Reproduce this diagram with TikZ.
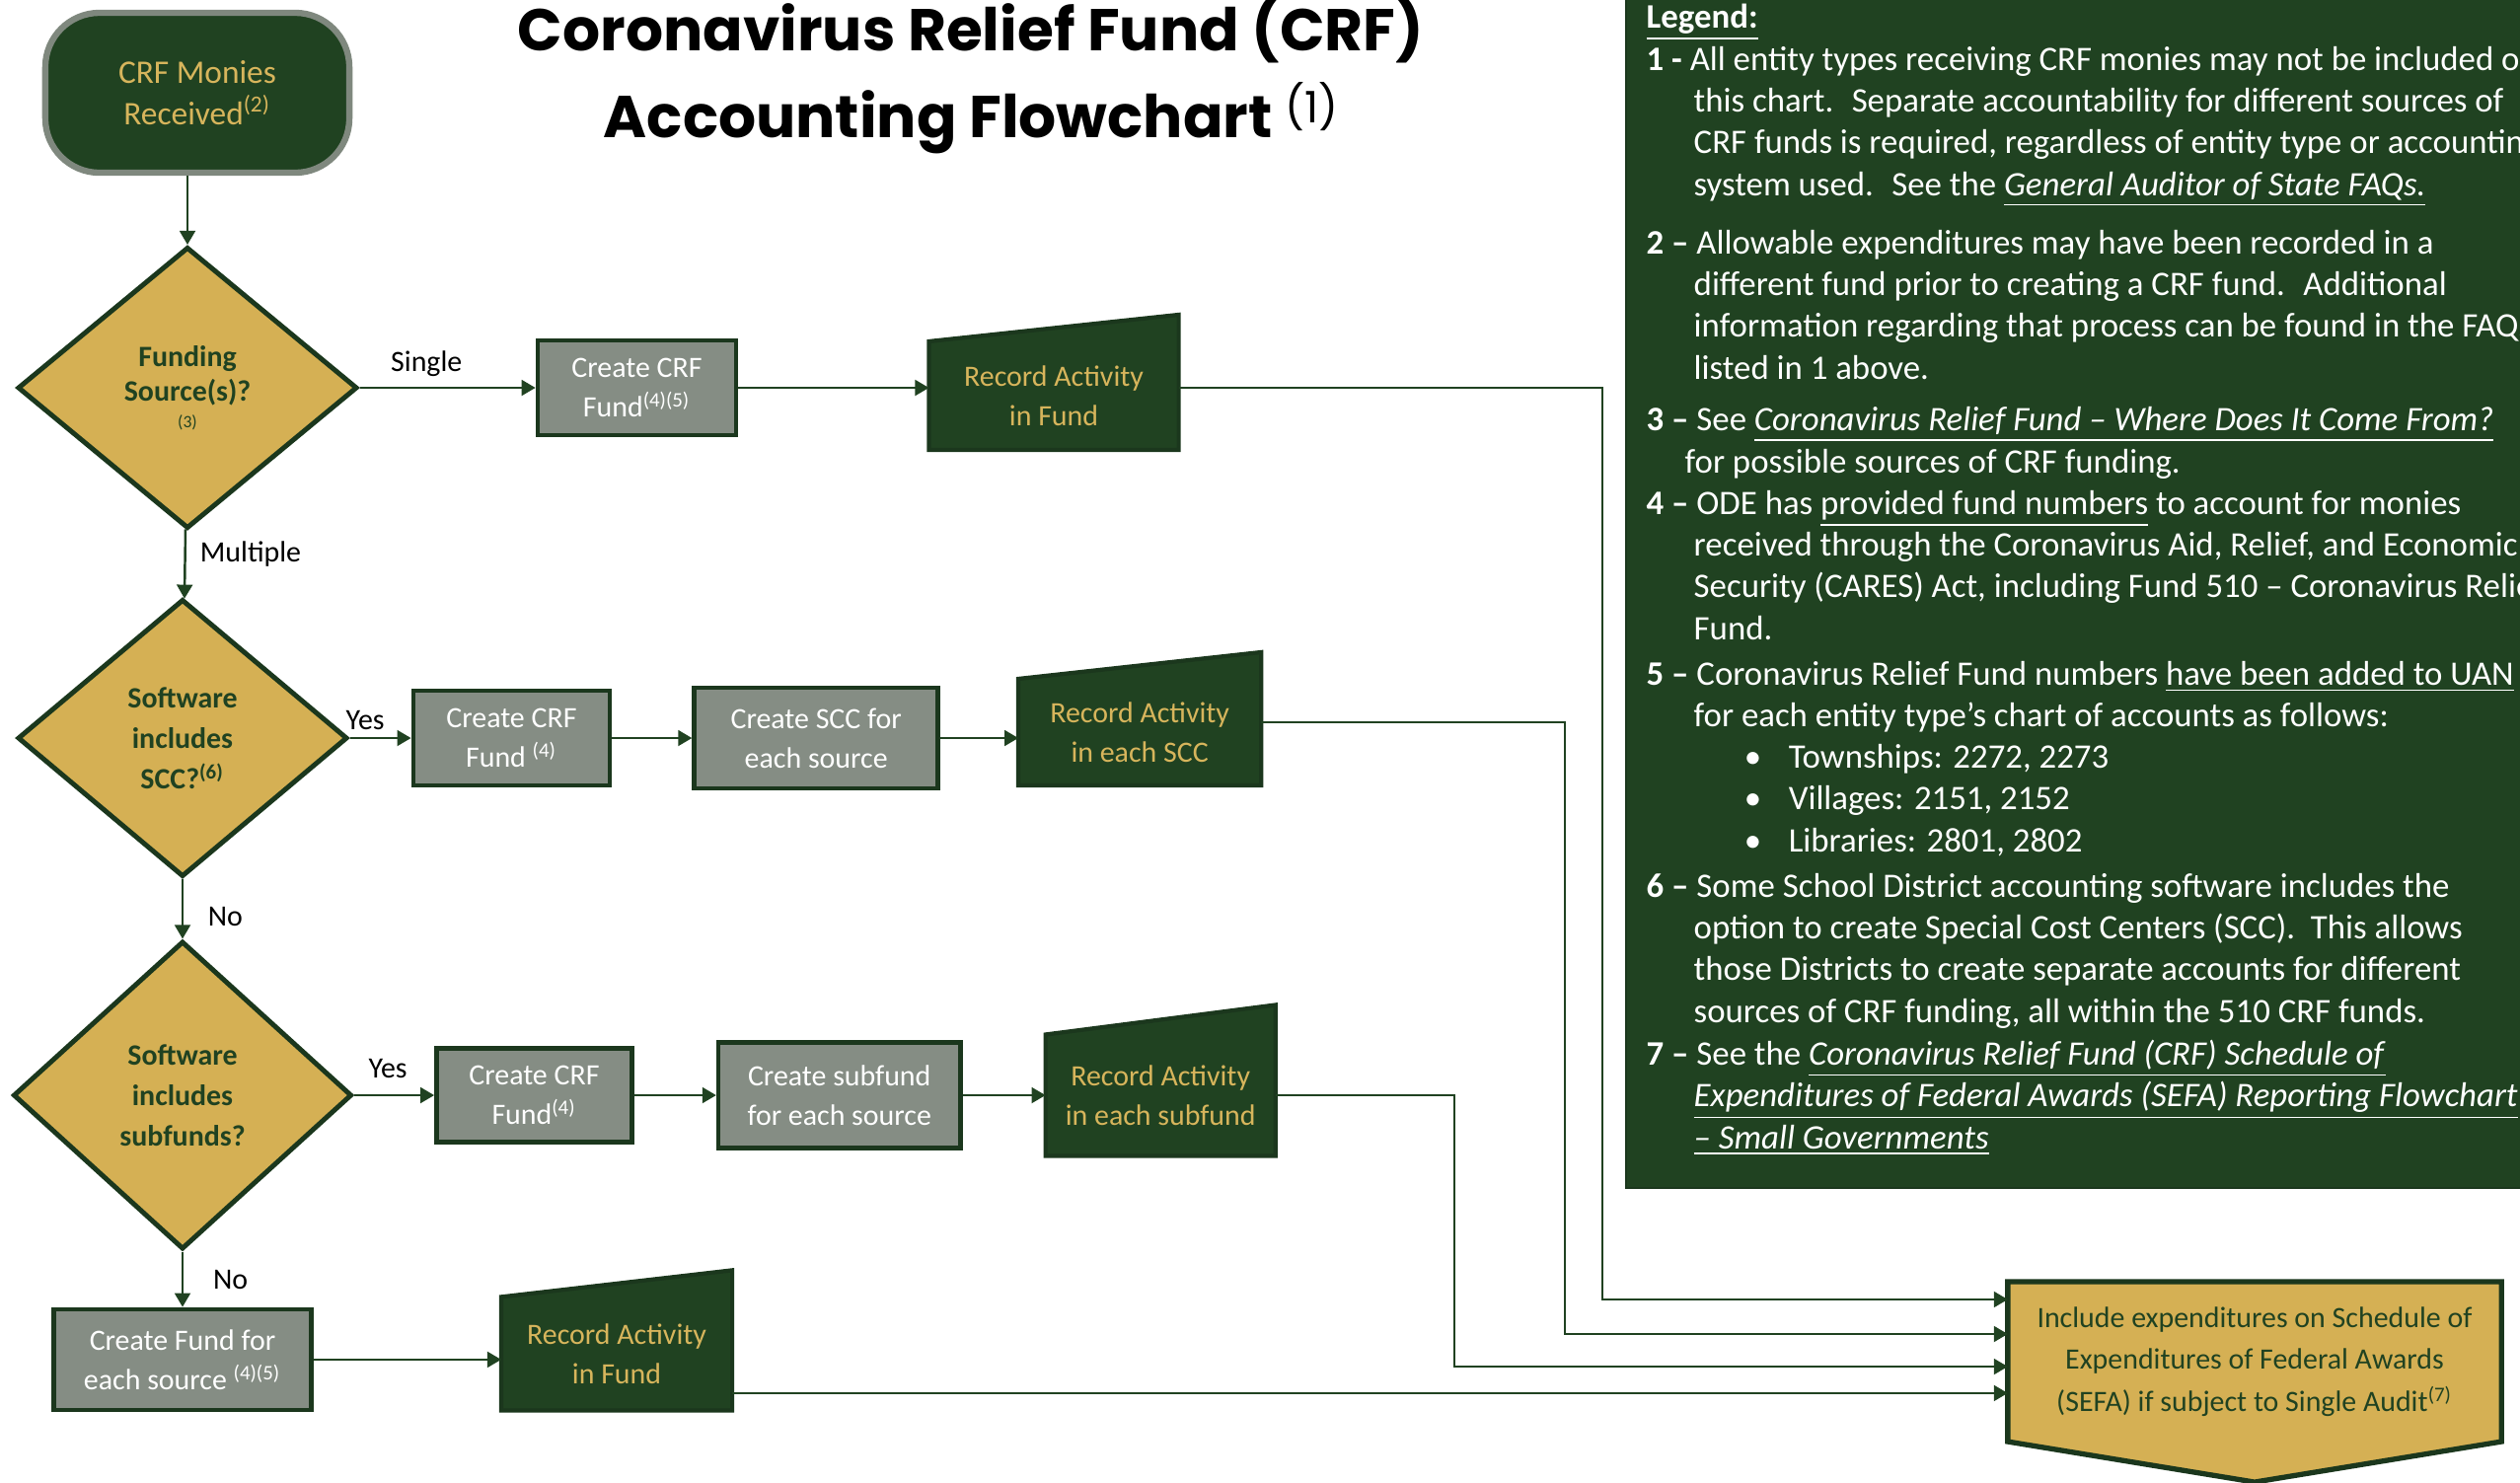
\documentclass[tikz,border=0pt]{standalone}
\usepackage{fontspec}
\setmainfont{Carlito}
\newfontfamily\titlefont{Poppins}
\usepackage{xcolor}
\usetikzlibrary{arrows.meta, backgrounds, positioning, shapes.geometric}
\definecolor{crfgreen}{RGB}{32,66,33}
\definecolor{crfdark}{RGB}{27,55,29}
\definecolor{crfgold}{RGB}{213,176,84}
\definecolor{crfgray}{RGB}{133,141,132}
\definecolor{crfedge}{RGB}{127,136,126}
\definecolor{crftext}{RGB}{215,181,92}
\tikzset{
>={Triangle[length=4pt,width=4.5pt]}, % filled arrow heads
flow/.style={->, crfgreen, line width=0.7pt}, % connectors
startnode/.style={rectangle, rounded corners=0.55cm, draw=crfedge, fill=crfgreen, line width=1.8pt,
  text=crftext, align=center, minimum width=3.08cm, minimum height=1.62cm, font=\fontsize{9.5}{12}\selectfont},
decision/.style={diamond, aspect=1.2, inner sep=0pt, draw=crfdark, fill=crfgold, line width=1.4pt,
  text=crfgreen, align=center, font=\bfseries\fontsize{8.5}{11.6}\selectfont},
process/.style={rectangle, draw=crfdark, fill=crfgray, line width=1.3pt, text=white, align=center,
  inner sep=1pt, font=\fontsize{8.5}{11.4}\selectfont},
record/.style={rectangle, inner sep=0pt, outer sep=0pt, text=crftext, align=center,
  font=\fontsize{8.5}{11.4}\selectfont},
recshape/.style={fill=crfgreen, draw=crfdark, line width=1.2pt},
sefanode/.style={rectangle, inner sep=0pt, outer sep=0pt, text=crfgreen, align=center,
  font=\fontsize{8.5}{12}\selectfont},
sefashape/.style={fill=crfgold, draw=crfdark, line width=1.5pt},
lbl/.style={text=black, inner sep=2pt, font=\fontsize{8.5}{10}\selectfont},
titletext/.style={inner sep=0pt, font=\titlefont\bfseries\fontsize{17}{20}\selectfont},
legendbox/.style={fill=crfgreen, draw=crfdark, line width=0.6pt},
legtext/.style={anchor=base west, inner sep=0pt, align=left, text=white, font=\fontsize{9.9}{12}\selectfont},
}
\newcommand{\legind}{\hspace*{0.48cm}} % hanging indent in the legend
\newcommand{\legbullet}{\makebox[1.44cm][l]{\hspace*{0.99cm}\textbullet}}

\begin{document}
\begin{tikzpicture}[x=0.01cm, y=-0.01cm]
\useasboundingbox (0,0) rectangle (2554,1502);

% title
\node[titletext, anchor=base] (title1) at (984,51) {Coronavirus Relief Fund (CRF)};
\node[titletext, anchor=base] (title2) at (984,139) {Accounting Flowchart
  {\mdseries\fontsize{12.5}{12.5}\selectfont\raisebox{4pt}{(1)}}};

% flowchart
\node[startnode] (start) at (200,94) {CRF Monies\\Received\textsuperscript{(2)}};
\node[decision, minimum width=3.44cm, minimum height=2.85cm] (d1) at (190,393)
  {Funding\\[-1.5pt]Source(s)?\\[-4pt]{\mdseries\tiny(3)}};
\node[process, minimum width=2.01cm, minimum height=0.96cm, right=1.78cm of d1] (b1) {Create CRF\\Fund\textsuperscript{(4)(5)}};
\node[record, minimum width=2.53cm, minimum height=1.10cm, right=1.93cm of b1, yshift=-0.08cm] (rec1) {Record Activity\\in Fund};

\node[decision, minimum width=3.34cm, minimum height=2.81cm] (d2) at (185,748) {Software\\includes\\SCC?\textsuperscript{(6)}};
\node[process, minimum width=1.99cm, minimum height=0.96cm, right=0.62cm of d2] (b2) {Create CRF\\Fund \textsuperscript{(4)}};
\node[process, minimum width=2.47cm, minimum height=1.02cm, right=0.81cm of b2] (b3) {Create SCC for\\each source};
\node[record, minimum width=2.46cm, minimum height=1.08cm, right=0.79cm of b3, yshift=0.06cm] (rec2) {Record Activity\\in each SCC};

\node[decision, minimum width=3.43cm, minimum height=3.12cm] (d3) at (185,1110) {Software\\includes\\subfunds?};
\node[process, minimum width=1.98cm, minimum height=0.95cm, right=0.81cm of d3] (b4) {Create CRF\\Fund\textsuperscript{(4)}};
\node[process, minimum width=2.45cm, minimum height=1.07cm, right=0.83cm of b4] (b5) {Create subfund\\for each source};
\node[record, minimum width=2.33cm, minimum height=1.23cm, right=0.84cm of b5] (rec3) {Record Activity\\in each subfund};

\node[process, minimum width=2.61cm, minimum height=1.02cm, below=0.56cm of d3] (b6) {Create Fund for\\each source \textsuperscript{(4)(5)}};
\node[record, minimum width=2.34cm, minimum height=1.15cm, right=1.90cm of b6, yshift=0.06cm] (rec4) {Record Activity\\in Fund};

\node[sefanode, minimum width=5.0cm, minimum height=1.62cm] (sefa) at (2285,1380)
  {Include expenditures on Schedule of\\Expenditures of Federal Awards\\(SEFA) if subject to Single Audit\textsuperscript{(7)}};

\begin{scope}[on background layer]
  \filldraw[legendbox] (1648,-20) rectangle (2600,1204);
  \filldraw[recshape] (rec1.south west) -- (rec1.south east) -- ([yshift=0.27cm]rec1.north east) -- (rec1.north west) -- cycle;
  \filldraw[recshape] (rec2.south west) -- (rec2.south east) -- ([yshift=0.27cm]rec2.north east) -- (rec2.north west) -- cycle;
  \filldraw[recshape] (rec3.south west) -- (rec3.south east) -- ([yshift=0.30cm]rec3.north east) -- (rec3.north west) -- cycle;
  \filldraw[recshape] (rec4.south west) -- (rec4.south east) -- ([yshift=0.27cm]rec4.north east) -- (rec4.north west) -- cycle;
  \filldraw[sefashape] (sefa.north west) -- (sefa.north east) -- (sefa.south east)
    -- ([yshift=-0.41cm]sefa.south) -- (sefa.south west) -- cycle;
\end{scope}

\path[flow]
  (d1.north |- start.south) edge (d1.north)
  (d1) edge node[lbl, above=1pt, pos=0.38] {Single} (b1)
  (b1) edge (b1 -| rec1.west)
  (d1) edge node[lbl, right=2pt, pos=0.36] {Multiple} (d2)
  (d2) edge node[lbl, above, pos=0.25] {Yes} (b2)
  (b2) edge (b3)
  (b3) edge (b3 -| rec2.west)
  (d2) edge node[lbl, right=5pt, pos=0.63] {No} (d3)
  (d3) edge node[lbl, above=2.5pt, pos=0.42] {Yes} (b4)
  (b4) edge (b5)
  (b5) edge (rec3)
  (d3) edge node[lbl, right=6.5pt, pos=0.5] {No} (b6)
  (b6) edge (b6 -| rec4.west);

% joins into the SEFA box
\coordinate (k1) at (1624,0);
\coordinate (k2) at (1586,0);
\coordinate (k3) at (1474,0);
\coordinate (s1) at ([yshift=-0.18cm]sefa.north west);
\coordinate (s2) at ([yshift=-0.53cm]sefa.north west);
\coordinate (s3) at ([yshift=-0.86cm]sefa.north west);
\draw[flow] (rec1.east |- b1) -- (k1 |- b1) |- (s1);
\draw[flow] ([yshift=0.1cm]rec2.east) coordinate (r2out) -- (k2 |- r2out) |- (s2);
\draw[flow] (rec3.east) -- (k3 |- rec3.east) |- (s3);
\draw[flow] ([yshift=-0.4cm]rec4.east) coordinate (r4out) -- (r4out -| sefa.west);

% legend (each node sits on the baseline of its last line)
\node[legtext] (leg) at (1668,28) {\underline{\textbf{Legend:}}};
\node[legtext] (n1) at (1668,198) {\textbf{1 -} All entity types receiving CRF monies may not be included on\\
  \legind this chart.~ Separate accountability for different sources of\\
  \legind CRF funds is required, regardless of entity type or accounting\\
  \legind system used.~ See the \underline{\textit{General Auditor of State FAQs.}}};
\node[legtext] (n2) at (1668,384) {\textbf{2 --} Allowable expenditures may have been recorded in a\\
  \legind different fund prior to creating a CRF fund.~ Additional\\
  \legind information regarding that process can be found in the FAQs\\
  \legind listed in 1 above.};
\node[legtext] (n3) at (1668,479) {\textbf{3 --} See \underline{\textit{Coronavirus Relief Fund -- Where Does It Come From?}}\\
  \hspace*{0.39cm}for possible sources of CRF funding.};
\node[legtext] (n4) at (1668,648) {\textbf{4 --} ODE has \underline{provided fund numbers} to account for monies\\
  \legind received through the Coronavirus Aid, Relief, and Economic\\
  \legind Security (CARES) Act, including Fund 510 -- Coronavirus Relief\\
  \legind Fund.};
\node[legtext] (n5) at (1668,863) {\textbf{5 --} Coronavirus Relief Fund numbers \underline{have been added to UAN}\\
  \legind for each entity type's chart of accounts as follows:\\
  \legbullet Townships: 2272, 2273\\
  \legbullet Villages: 2151, 2152\\
  \legbullet Libraries: 2801, 2802};
\node[legtext] (n6) at (1668,1036) {\textbf{6 --} Some School District accounting software includes the\\
  \legind option to create Special Cost Centers (SCC).~ This allows\\
  \legind those Districts to create separate accounts for different\\
  \legind sources of CRF funding, all within the 510 CRF funds.};
\node[legtext] (n7) at (1668,1164) {\textbf{7 --} See the \underline{\textit{Coronavirus Relief Fund (CRF) Schedule of}}\\
  \legind\underline{\textit{Expenditures of Federal Awards (SEFA) Reporting Flowchart}}\\
  \legind\underline{\textit{-- Small Governments}}};
\end{tikzpicture}
\end{document}
